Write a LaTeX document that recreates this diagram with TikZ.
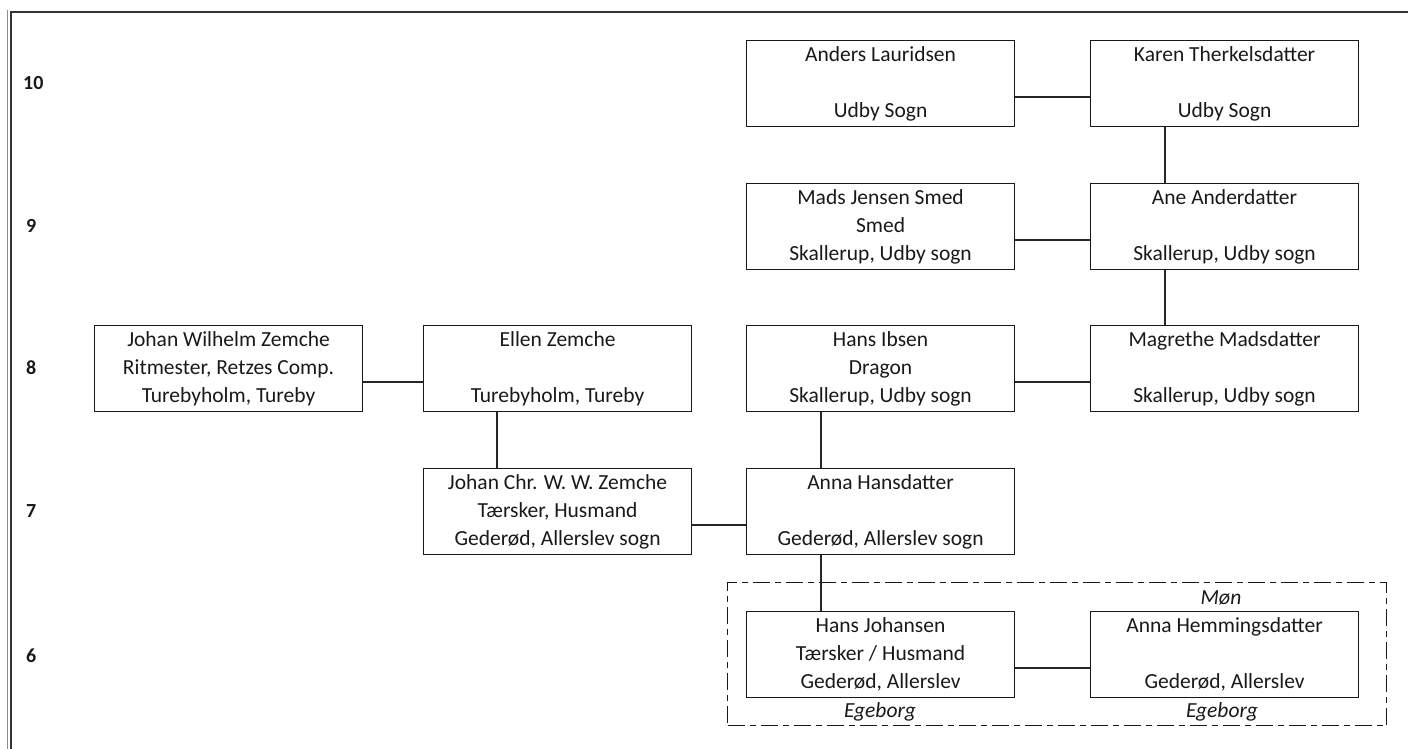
\documentclass[tikz,border=0pt]{standalone}
\usepackage{fontspec}
\setmainfont{Carlito}
\begin{document}
\begin{tikzpicture}[x=1pt,y=-1pt,
  person/.style={draw=black!90, line width=1.1pt, minimum width=268pt, minimum height=86pt,
    inner sep=0pt, anchor=north west, align=center, text=black!90,
    font=\fontsize{21.5}{28}\selectfont},
  link/.style={draw=black!85, line width=1.1pt},
  gen/.style={font=\fontsize{20}{22}\selectfont\bfseries, anchor=west, inner sep=0pt, text=black!90},
  note/.style={font=\fontsize{21.5}{24}\selectfont\itshape, text=black!90},
  grp/.style={draw=black!90, line width=1.4pt, dash pattern=on 17pt off 5pt on 6pt off 5pt}]
\useasboundingbox (0,0) rectangle (1408,749);
% page frame
\draw[black!45, line width=1pt] (7,10) -- (7,749);
\draw[black!80, line width=2pt] (11,749) -- (11,12) -- (1408,12);
% generation labels
\node[gen] (g10) at (23,83) {10};
\node[gen] (g9) at (26,226) {9};
\node[gen] (g8) at (26,368) {8};
\node[gen] (g7) at (26,511) {7};
\node[gen] (g6) at (26,656) {6};
% group frame
\node[grp, draw, minimum width=659pt, minimum height=143pt, anchor=north west, inner sep=0pt] (mon) at (727,582) {};
% persons
\node[person] (anders) at (746,40) {Anders Lauridsen\\ \mbox{}\\Udby Sogn};
\node[person] (karen) at (1090,40) {Karen Therkelsdatter\\ \mbox{}\\Udby Sogn};
\node[person] (mads) at (746,183) {Mads Jensen Smed\\Smed\\Skallerup, Udby sogn};
\node[person] (ane) at (1090,183) {Ane Anderdatter\\ \mbox{}\\Skallerup, Udby sogn};
\node[person] (jwz) at (94,325) {Johan Wilhelm Zemche\\Ritmester, Retzes Comp.\\Turebyholm, Tureby};
\node[person] (ellen) at (423,325) {Ellen Zemche\\ \mbox{}\\Turebyholm, Tureby};
\node[person] (hib) at (746,325) {Hans Ibsen\\Dragon\\Skallerup, Udby sogn};
\node[person] (mag) at (1090,325) {Magrethe Madsdatter\\ \mbox{}\\Skallerup, Udby sogn};
\node[person] (jcz) at (423,468) {Johan Chr. W. W. Zemche\\Tærsker, Husmand\\Gederød, Allerslev sogn};
\node[person] (ahd) at (746,468) {Anna Hansdatter\\ \mbox{}\\Gederød, Allerslev sogn};
\node[person] (hjo) at (746,611) {Hans Johansen\\Tærsker / Husmand\\Gederød, Allerslev};
\node[person] (ahe) at (1090,611) {Anna Hemmingsdatter\\ \mbox{}\\Gederød, Allerslev};
% notes
\node[note] (monlbl) at (1221,598) {Møn};
\node[note] (ege1) at (880,712) {Egeborg};
\node[note] (ege2) at (1222,712) {Egeborg};
% couples
\draw[link] ([yshift=-57pt]anders.north east) -- ([yshift=-57pt]karen.north west);
\draw[link] ([yshift=-57pt]mads.north east) -- ([yshift=-57pt]ane.north west);
\draw[link] ([yshift=-57pt]jwz.north east) -- ([yshift=-57pt]ellen.north west);
\draw[link] ([yshift=-57pt]hib.north east) -- ([yshift=-57pt]mag.north west);
\draw[link] ([yshift=-57pt]jcz.north east) -- ([yshift=-57pt]ahd.north west);
\draw[link] ([yshift=-57pt]hjo.north east) -- ([yshift=-57pt]ahe.north west);
% descent
\draw[link] ([xshift=75pt]karen.south west) -- ([xshift=75pt]ane.north west);
\draw[link] ([xshift=75pt]ane.south west) -- ([xshift=75pt]mag.north west);
\draw[link] ([xshift=74pt]ellen.south west) -- ([xshift=74pt]jcz.north west);
\draw[link] ([xshift=75pt]hib.south west) -- ([xshift=75pt]ahd.north west);
\draw[link] ([xshift=75pt]ahd.south west) -- ([xshift=75pt]hjo.north west);
\end{tikzpicture}
\end{document}
